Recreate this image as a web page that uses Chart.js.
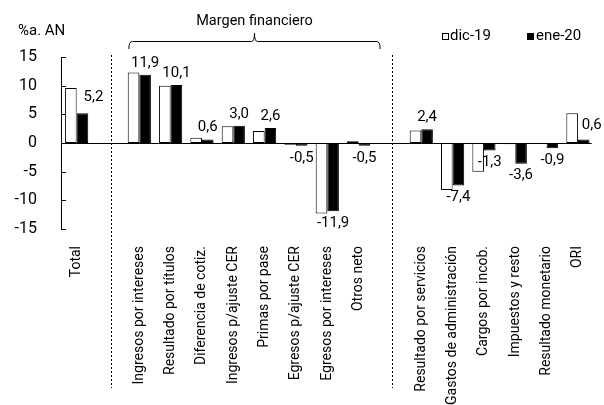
<!DOCTYPE html>
<html>
<head>
<meta charset="utf-8">
<script src="https://cdn.jsdelivr.net/npm/chart.js@4.4.0/dist/chart.umd.min.js"></script>
<style>
  html, body { margin: 0; padding: 0; background: #fff; }
  #wrap { position: relative; width: 604px; height: 405px; }
</style>
</head>
<body>
<div id="wrap"><canvas id="chart" width="604" height="405"></canvas></div>
<script>
// categories (empty strings are the gaps where the dotted separators sit)
var categories = [
    'Total', '',
    'Ingresos por intereses', 'Resultado por títulos', 'Diferencia de cotiz.',
    'Ingresos p/ajuste CER', 'Primas por pase', 'Egresos p/ajuste CER',
    'Egresos por intereses', 'Otros neto', '',
    'Resultado por servicios', 'Gastos de administración', 'Cargos por incob.',
    'Impuestos y resto', 'Resultado monetario', 'ORI'
];
var dic19 = [9.6, null, 12.3, 10.0, 0.9, 2.9, 2.1, -0.3, -12.3, 0.3, null, 2.2, -8.2, -5.0, -0.2, 0.0, 5.2];
var ene20 = [5.2, null, 11.9, 10.1, 0.6, 3.0, 2.6, -0.5, -11.9, -0.5, null, 2.4, -7.4, -1.3, -3.6, -0.9, 0.6];
var yTicks = [15, 10, 5, 0, -5, -10, -15];

var FONT = 'Roboto';

function fmt(v) {
    return v.toFixed(1).replace('.', ',');
}

// labels that were moved by hand in the original
var labelShift = { 0: [11, -4], 16: [8, -2] };

var extras = {
    id: 'extras',
    afterDatasetsDraw: function (chart) {
        var ctx = chart.ctx;
        var area = chart.chartArea;
        var x = chart.scales.x, y = chart.scales.y;
        ctx.save();

        // zero line
        var y0 = Math.round(y.getPixelForValue(0)) + 0.5;
        ctx.strokeStyle = '#000';
        ctx.lineWidth = 1;
        ctx.beginPath();
        ctx.moveTo(area.left, y0);
        ctx.lineTo(area.right - 2, y0);
        ctx.stroke();

        // inside tick marks on the y axis
        yTicks.forEach(function (t) {
            var ty = Math.round(y.getPixelForValue(t)) + 0.5;
            ctx.beginPath();
            ctx.moveTo(area.left, ty);
            ctx.lineTo(area.left + 5, ty);
            ctx.stroke();
        });

        // dotted separators
        ctx.setLineDash([2, 2]);
        [[1, 3], [10, 2]].forEach(function (s) {
            var sx = Math.round(x.getPixelForValue(s[0]) + s[1]) + 0.5;
            ctx.beginPath();
            ctx.moveTo(sx, area.top - 2);
            ctx.lineTo(sx, 388);
            ctx.stroke();
        });
        ctx.setLineDash([]);

        // value labels for ene-20
        var meta = chart.getDatasetMeta(1);
        ctx.fillStyle = '#000';
        ctx.font = '15px ' + FONT;
        ctx.textAlign = 'center';
        ctx.textBaseline = 'middle';
        meta.data.forEach(function (bar, i) {
            var v = ene20[i];
            if (v === null) return;
            var sh = labelShift[i] || [0, 0];
            var ly = v >= 0 ? bar.y - 12 : bar.y + 12;
            ctx.fillText(fmt(v), bar.x + sh[0], ly + sh[1]);
        });

        // unit label
        ctx.textAlign = 'left';
        ctx.fillText('%a. AN', 18, 31);

        // bracket for Margen financiero
        var bl = x.getPixelForValue(2) - 11;
        var br = x.getPixelForValue(9) + 22;
        var bm = (bl + br) / 2;
        var by = 41.5;
        ctx.lineWidth = 1;
        ctx.beginPath();
        ctx.moveTo(bl + 0.5, 49);
        ctx.quadraticCurveTo(bl + 0.5, by, bl + 4, by);
        ctx.lineTo(bm - 3, by);
        ctx.quadraticCurveTo(bm, by, bm, 33);
        ctx.quadraticCurveTo(bm, by, bm + 3, by);
        ctx.lineTo(br - 4, by);
        ctx.quadraticCurveTo(br - 0.5, by, br - 0.5, 49);
        ctx.stroke();
        ctx.textAlign = 'center';
        ctx.font = '14.5px ' + FONT;
        ctx.fillText('Margen financiero', bm, 21);

        // legend
        ctx.font = '15px ' + FONT;
        ctx.fillStyle = '#fff';
        ctx.fillRect(442.5, 33.5, 6, 6);
        ctx.strokeRect(442.5, 33.5, 6, 6);
        ctx.fillStyle = '#000';
        ctx.fillRect(527, 33, 7, 7);
        ctx.textAlign = 'left';
        ctx.fillText('dic-19', 450, 36);
        ctx.fillText('ene-20', 536, 36);

        ctx.restore();
    }
};

var ctx = document.getElementById('chart').getContext('2d');
var chart = new Chart(ctx, {
    type: 'bar',
    data: {
        labels: categories,
        datasets: [{
            label: 'dic-19',
            data: dic19,
            backgroundColor: '#fff',
            borderColor: '#000',
            borderWidth: 1,
            borderSkipped: false
        }, {
            label: 'ene-20',
            data: ene20,
            backgroundColor: '#000',
            borderColor: '#000',
            borderWidth: 1,
            borderSkipped: false
        }]
    },
    options: {
        responsive: false,
        animation: false,
        layout: { padding: { top: 57, right: 9, left: 0, bottom: 0 } },
        datasets: { bar: { categoryPercentage: 0.74, barPercentage: 1.0 } },
        plugins: {
            legend: { display: false },
            tooltip: { enabled: false }
        },
        scales: {
            x: {
                grid: { display: false },
                border: { display: false },
                ticks: {
                    autoSkip: false,
                    minRotation: 90,
                    maxRotation: 90,
                    padding: 9,
                    color: '#000',
                    font: { family: FONT, size: 14 }
                },
                afterFit: function (s) { s.height = 176; }
            },
            y: {
                min: -15,
                max: 15,
                grid: { display: false },
                border: { display: true, color: '#000', width: 1 },
                ticks: {
                    stepSize: 5,
                    padding: 16,
                    color: '#000',
                    font: { family: FONT, size: 16 }
                },
                afterFit: function (s) { s.width = 61; }
            }
        }
    },
    plugins: [extras]
});
</script>
</body>
</html>
